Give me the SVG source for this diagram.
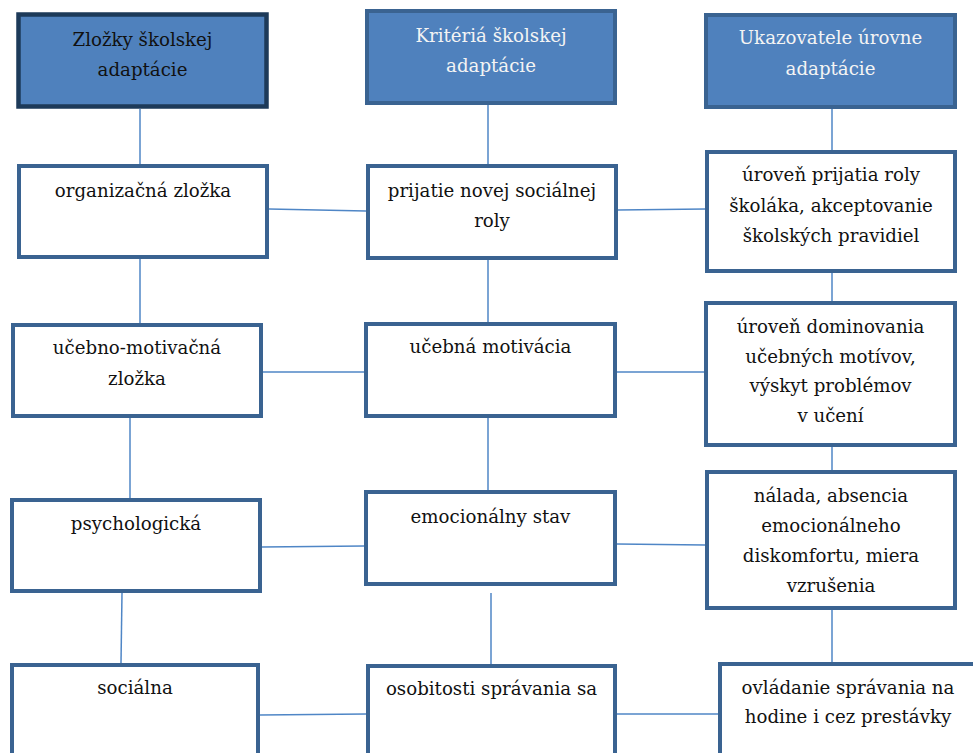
<svg xmlns="http://www.w3.org/2000/svg" width="973" height="753" viewBox="0 0 973 753">
<style>
.t text{font-size:18.2px;text-anchor:middle;fill:#111}
.box{fill:#ffffff;stroke:#3a6391;stroke-width:4}
.hd{fill:#4f81bd;stroke:#3a6391;stroke-width:4}
.hd1{fill:#4f81bd;stroke:#1d3a59;stroke-width:4.5}
.t .wt{fill:#f4f4f4}
.con line{stroke:#4f86c6;stroke-width:1.5}
</style>
<rect width="973" height="753" fill="#ffffff"/>
<g class="con">
<line x1="140" y1="109" x2="140" y2="164"/>
<line x1="488" y1="105" x2="488" y2="164"/>
<line x1="832" y1="109" x2="832" y2="150"/>
<line x1="269" y1="209" x2="366" y2="211"/>
<line x1="618" y1="210" x2="705" y2="209"/>
<line x1="140" y1="259" x2="140" y2="323"/>
<line x1="488" y1="260" x2="488" y2="322"/>
<line x1="832" y1="273" x2="832" y2="301"/>
<line x1="263" y1="372" x2="364" y2="372"/>
<line x1="617" y1="372" x2="704" y2="372"/>
<line x1="130" y1="418" x2="130" y2="498"/>
<line x1="488" y1="418" x2="488" y2="490"/>
<line x1="832" y1="447" x2="832" y2="470"/>
<line x1="262" y1="547" x2="364" y2="546"/>
<line x1="617" y1="544" x2="705" y2="545"/>
<line x1="122" y1="593" x2="121" y2="663"/>
<line x1="491" y1="593" x2="491" y2="664"/>
<line x1="832" y1="610" x2="832" y2="662"/>
<line x1="260" y1="715" x2="366" y2="714"/>
<line x1="617" y1="714" x2="718" y2="714"/>
</g>
<g class="t" font-family="'DejaVu Serif', serif">
<g id="h1"><rect class="hd1" x="18.5" y="14.5" width="248" height="92"/><text x="142.5" y="46">Zložky školskej</text><text x="142.5" y="76">adaptácie</text></g>
<g id="h2"><rect class="hd" x="367" y="11" width="248" height="92"/><text class="wt" x="491" y="42">Kritériá školskej</text><text class="wt" x="491" y="72">adaptácie</text></g>
<g id="h3"><rect class="hd" x="706" y="15" width="249" height="92"/><text class="wt" x="830.5" y="44">Ukazovatele úrovne</text><text class="wt" x="830.5" y="75">adaptácie</text></g>
<g id="a1"><rect class="box" x="19" y="166" width="248" height="91"/><text x="143" y="197">organizačná zložka</text></g>
<g id="b1"><rect class="box" x="368" y="166" width="248" height="92"/><text x="492" y="197">prijatie novej sociálnej</text><text x="492" y="227">roly</text></g>
<g id="c1"><rect class="box" x="707" y="152" width="248" height="119"/><text x="831" y="181">úroveň prijatia roly</text><text x="831" y="212">školáka, akceptovanie</text><text x="831" y="242">školských pravidiel</text></g>
<g id="a2"><rect class="box" x="13" y="325" width="248" height="91"/><text x="137" y="354">učebno-motivačná</text><text x="137" y="385">zložka</text></g>
<g id="b2"><rect class="box" x="366" y="324" width="249" height="92"/><text x="490.5" y="353">učebná motivácia</text></g>
<g id="c2"><rect class="box" x="706" y="303" width="249" height="142"/><text x="830.5" y="333">úroveň dominovania</text><text x="830.5" y="363">učebných motívov,</text><text x="830.5" y="392">výskyt problémov</text><text x="830.5" y="422">v učení</text></g>
<g id="a3"><rect class="box" x="12" y="500" width="248" height="91"/><text x="136" y="530">psychologická</text></g>
<g id="b3"><rect class="box" x="366" y="492" width="249" height="92"/><text x="490.5" y="523">emocionálny stav</text></g>
<g id="c3"><rect class="box" x="707" y="472" width="248" height="136"/><text x="831" y="502">nálada, absencia</text><text x="831" y="532">emocionálneho</text><text x="831" y="562">diskomfortu, miera</text><text x="831" y="592">vzrušenia</text></g>
<g id="a4"><rect class="box" x="12" y="665" width="246" height="110"/><text x="135" y="694">sociálna</text></g>
<g id="b4"><rect class="box" x="368" y="666" width="247" height="110"/><text x="491.5" y="695">osobitosti správania sa</text></g>
<g id="c4"><rect class="box" x="720" y="664" width="270" height="110"/><text x="848" y="694">ovládanie správania na</text><text x="848" y="723">hodine i cez prestávky</text></g>
</g>
</svg>
